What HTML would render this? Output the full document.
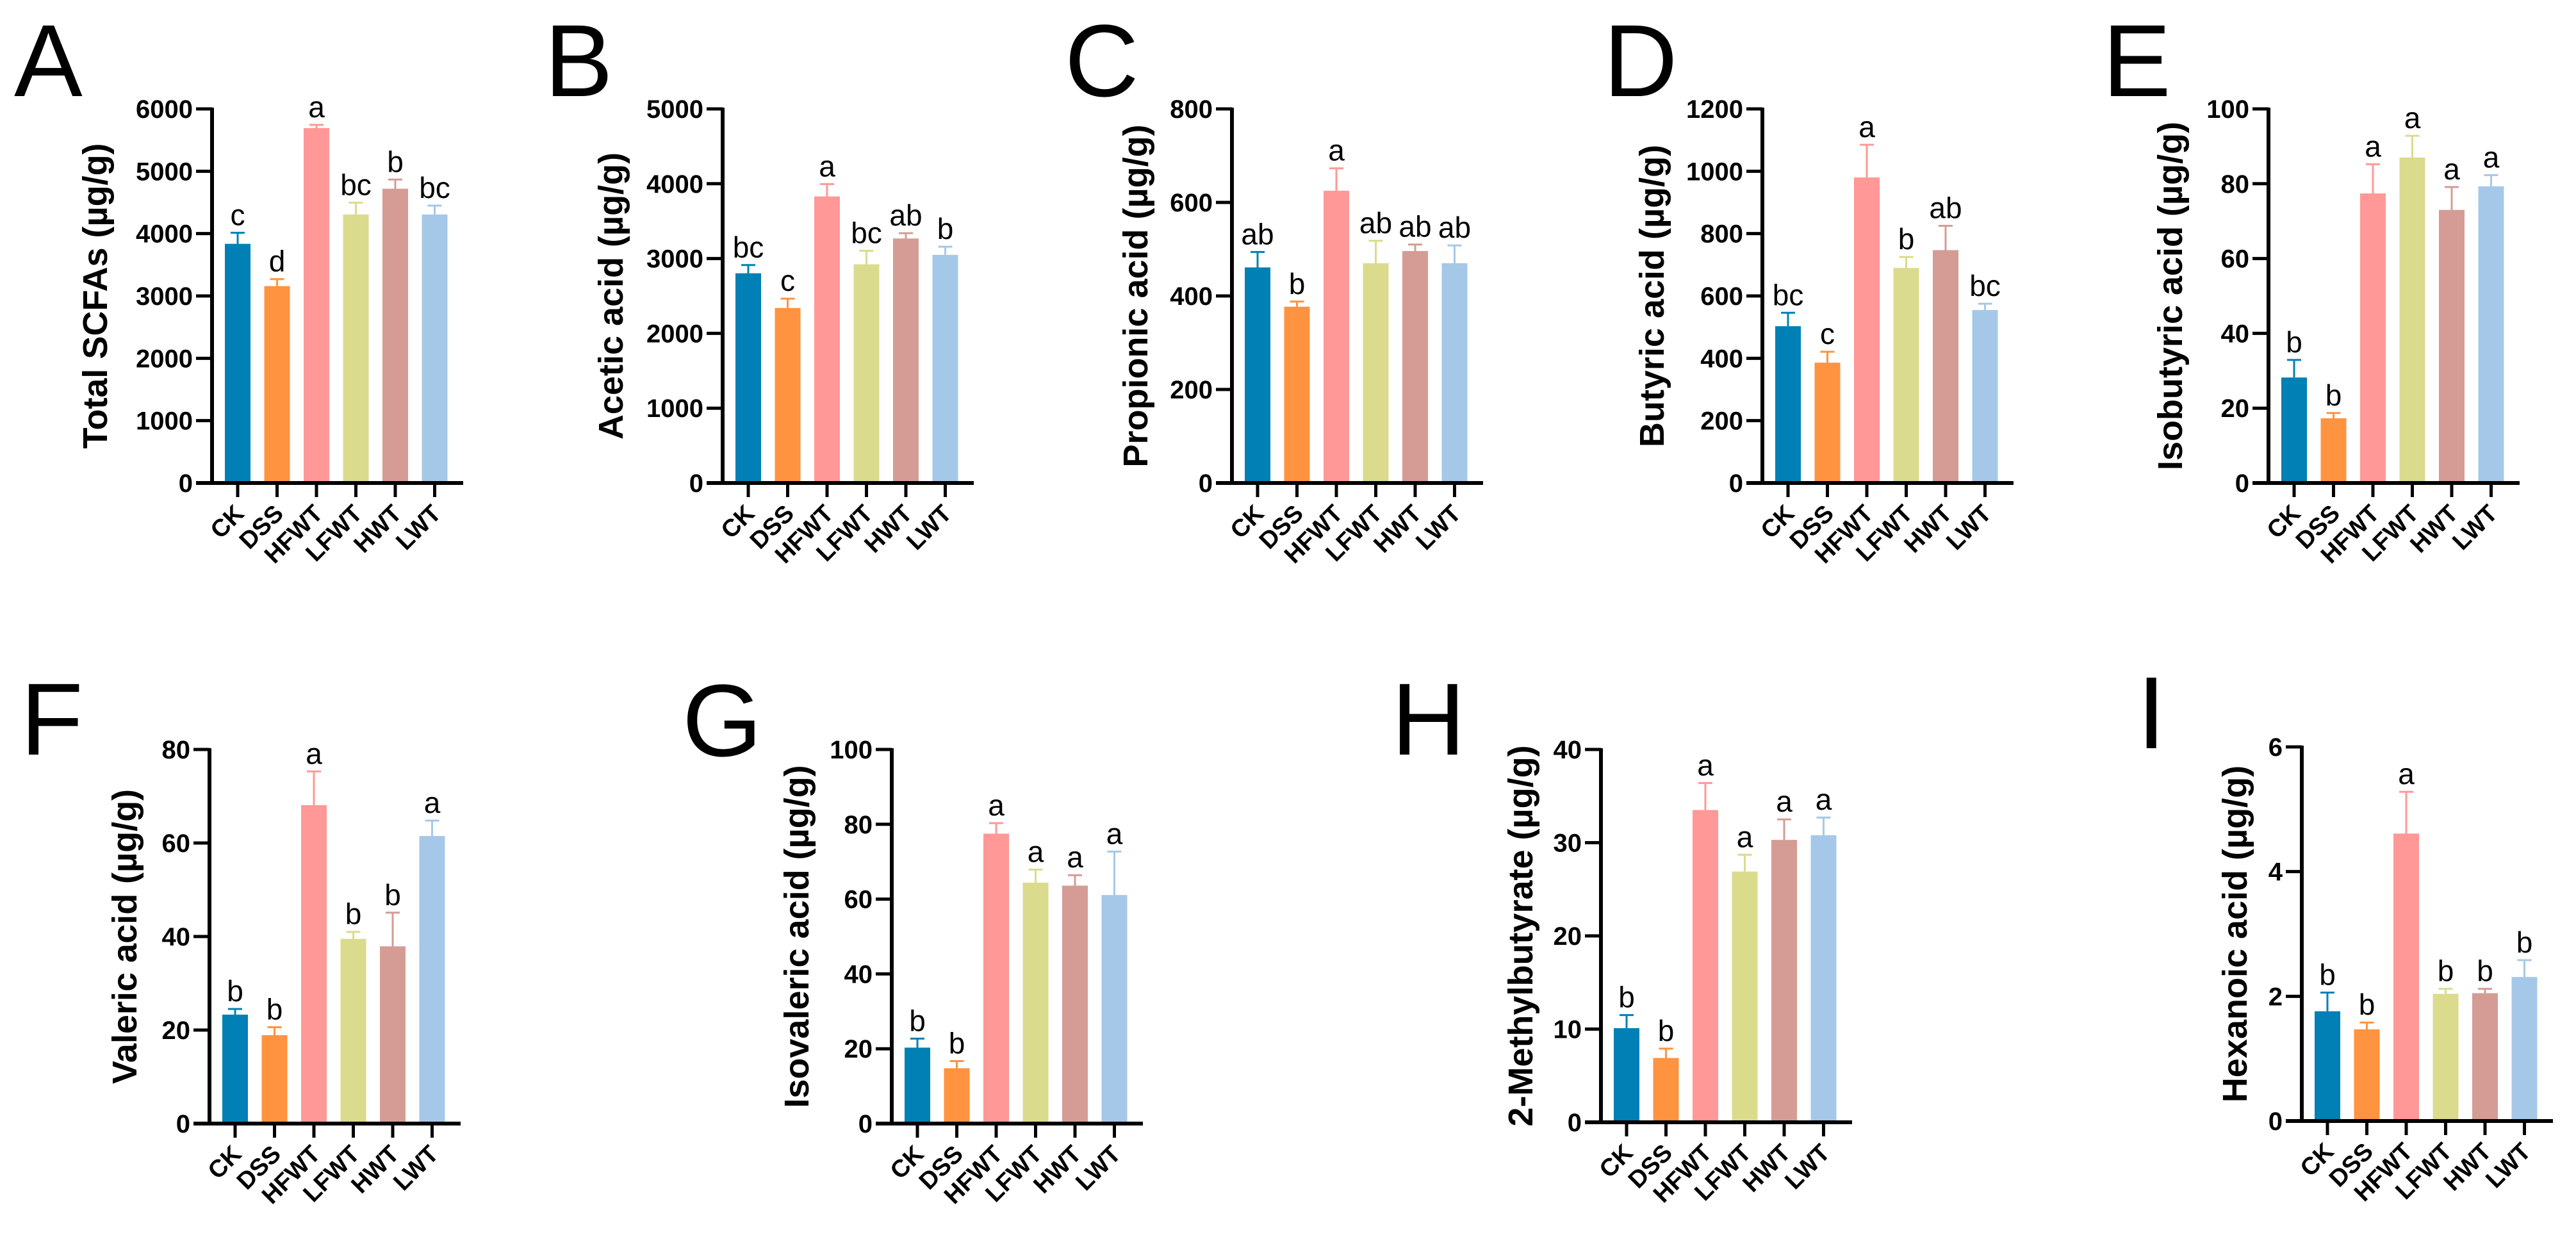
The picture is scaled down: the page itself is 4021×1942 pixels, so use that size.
<!DOCTYPE html>
<html><head><meta charset="utf-8"><style>
html,body{margin:0;padding:0;background:#fff;}
svg{display:block;}
</style></head><body>
<svg id="fig" width="4021" height="1942" viewBox="0 0 4021 1942" xmlns="http://www.w3.org/2000/svg" font-family="'Liberation Sans', Arial, sans-serif"></svg>
<script>
const categories = ["CK","DSS","HFWT","LFWT","HWT","LWT"];
const colors = ["#0080b4","#ff9340","#ff9896","#dbdb8d","#d49c94","#a6c8e8"];

const valsA = [3836,3158,5692,4307,4720,4307];
const errA  = [177,112,53,189,147,142];
const letA  = ["c","d","a","bc","b","bc"];
const ticksA = [0,1000,2000,3000,4000,5000,6000];

const valsB = [2803,2339,3830,2923,3268,3049];
const errB  = [110,125,165,181,71,109];
const letB  = ["bc","c","a","bc","ab","b"];
const ticksB = [0,1000,2000,3000,4000,5000];

const valsC = [461,377,625,470,496,470];
const errC  = [33,11,48,48,14,38];
const letC  = ["ab","b","a","ab","ab","ab"];
const ticksC = [0,200,400,600,800];

const valsD = [503,386,980,690,747,555];
const errD  = [43,35,105,35,78,20];
const letD  = ["bc","c","a","b","ab","bc"];
const ticksD = [0,200,400,600,800,1000,1200];

const valsE = [28.2,17.3,77.4,87,73,79.3];
const errE  = [4.7,1.4,7.8,5.8,6.1,3];
const letE  = ["b","b","a","a","a","a"];
const ticksE = [0,20,40,60,80,100];

const valsF = [23.3,18.9,68.1,39.5,37.9,61.5];
const errF  = [1.2,1.7,7.2,1.5,7.2,3.3];
const letF  = ["b","b","a","b","b","a"];
const ticksF = [0,20,40,60,80];

const valsG = [20.3,14.8,77.5,64.4,63.6,61.1];
const errG  = [2.4,1.9,2.8,3.5,2.8,11.6];
const letG  = ["b","b","a","a","a","a"];
const ticksG = [0,20,40,60,80,100];

const valsH = [10.1,6.9,33.5,26.9,30.3,30.8];
const errH  = [1.4,1,2.9,1.8,2.2,1.9];
const letH  = ["b","b","a","a","a","a"];
const ticksH = [0,10,20,30,40];

const valsI = [1.76,1.47,4.61,2.04,2.05,2.31];
const errI  = [0.3,0.11,0.67,0.08,0.07,0.27];
const letI  = ["b","b","a","b","b","b"];
const ticksI = [0,2,4,6];

const NS = "http://www.w3.org/2000/svg";
const svg = document.getElementById("fig");
function mk(tag, attrs, parent){
  const e = document.createElementNS(NS, tag);
  for (const k in attrs) e.setAttribute(k, attrs[k]);
  (parent||svg).appendChild(e);
  return e;
}

const panels = [
 {id:"a",label:"A",lx:22,ly:150,ax:331,top:170,zero:754,toff:182,title:"Total SCFAs (µg/g)",vals:valsA,err:errA,let:letA,ticks:ticksA},
 {id:"b",label:"B",lx:850,ly:150,ax:1128,top:170,zero:754,toff:174,title:"Acetic acid (µg/g)",vals:valsB,err:errB,let:letB,ticks:ticksB},
 {id:"c",label:"C",lx:1662,ly:150,ax:1923,top:170,zero:754,toff:150,title:"Propionic acid (µg/g)",vals:valsC,err:errC,let:letC,ticks:ticksC},
 {id:"d",label:"D",lx:2503,ly:150,ax:2751,top:170,zero:754,toff:172,title:"Butyric acid (µg/g)",vals:valsD,err:errD,let:letD,ticks:ticksD},
 {id:"e",label:"E",lx:3282,ly:150,ax:3541,top:170,zero:754,toff:153,title:"Isobutyric acid (µg/g)",vals:valsE,err:errE,let:letE,ticks:ticksE},
 {id:"f",label:"F",lx:32,ly:1178,ax:327,top:1170,zero:1754,toff:132,title:"Valeric acid (µg/g)",vals:valsF,err:errF,let:letF,ticks:ticksF},
 {id:"g",label:"G",lx:1065,ly:1180,ax:1392,top:1170,zero:1754,toff:148,title:"Isovaleric acid (µg/g)",vals:valsG,err:errG,let:letG,ticks:ticksG},
 {id:"h",label:"H",lx:2172,ly:1178,ax:2499,top:1170,zero:1752,toff:125,title:"2-Methylbutyrate (µg/g)",vals:valsH,err:errH,let:letH,ticks:ticksH},
 {id:"i",label:"I",lx:3336,ly:1168,ax:3593,top:1166,zero:1750,toff:104,title:"Hexanoic acid (µg/g)",vals:valsI,err:errI,let:letI,ticks:ticksI}
];

panels.forEach(p=>{
  const g = mk("g",{});
  
  
  const maxV = p.ticks[p.ticks.length-1];
  const y = v => p.zero - (v/maxV)*(p.zero-p.top);
  const x = i => p.ax + 40 + i*61.5;
  const L = mk("text",{x:p.lx,y:p.ly,"font-size":160,fill:"#000"},g);
  L.textContent = p.label;
  
  
  // bars
  p.vals.forEach((v,i)=>{
    const bx = x(i);
    const r = mk("rect",{x:bx-20,y:y(v),width:40,height:p.zero-y(v),fill:colors[i]},g);
    
    
    const et = y(v+p.err[i]);
    const e1 = mk("line",{x1:bx,x2:bx,y1:y(v),y2:et,stroke:colors[i],"stroke-width":3},g);
    
    
    const e2 = mk("line",{x1:bx-11,x2:bx+11,y1:et,y2:et,stroke:colors[i],"stroke-width":3},g);
    
    
    const t = mk("text",{x:bx,y:et-12,"font-size":46,"text-anchor":"middle",fill:"#000"},g);
    t.textContent = p.let[i];
    
    
    const tk = mk("line",{x1:bx,x2:bx,y1:p.zero,y2:p.zero+22,stroke:"#000","stroke-width":5},g);
    
    
    const cx = bx+12, cy = p.zero+50;
    const cl = mk("text",{x:cx,y:cy,"font-size":38,"font-weight":"bold","text-anchor":"end",transform:`rotate(-45 ${cx} ${cy})`,fill:"#000"},g);
    cl.textContent = categories[i];
    
    
  });
  // axes
  const ya = mk("line",{x1:p.ax,x2:p.ax,y1:p.top-2,y2:p.zero+3,stroke:"#000","stroke-width":6},g);
  
  
  const xa = mk("line",{x1:p.ax-25,x2:p.ax+392,y1:p.zero,y2:p.zero,stroke:"#000","stroke-width":6},g);
  
  
  p.ticks.forEach(tv=>{
    const ty = y(tv);
    const tl = mk("line",{x1:p.ax-25,x2:p.ax,y1:ty,y2:ty,stroke:"#000","stroke-width":5},g);
    
    
    const tt = mk("text",{x:p.ax-30,y:ty+14,"font-size":40,"font-weight":"bold","text-anchor":"end",fill:"#000"},g);
    tt.textContent = tv;
    
    
  });
  const tx = p.ax - p.toff, tyc = (p.top+p.zero)/2;
  const ti = mk("text",{x:tx,y:tyc,"font-size":54,"font-weight":"bold","text-anchor":"middle","dominant-baseline":"central",transform:`rotate(-90 ${tx} ${tyc})`,fill:"#000"},g);
  ti.textContent = p.title;
  
  
});
</script>
</body></html>
